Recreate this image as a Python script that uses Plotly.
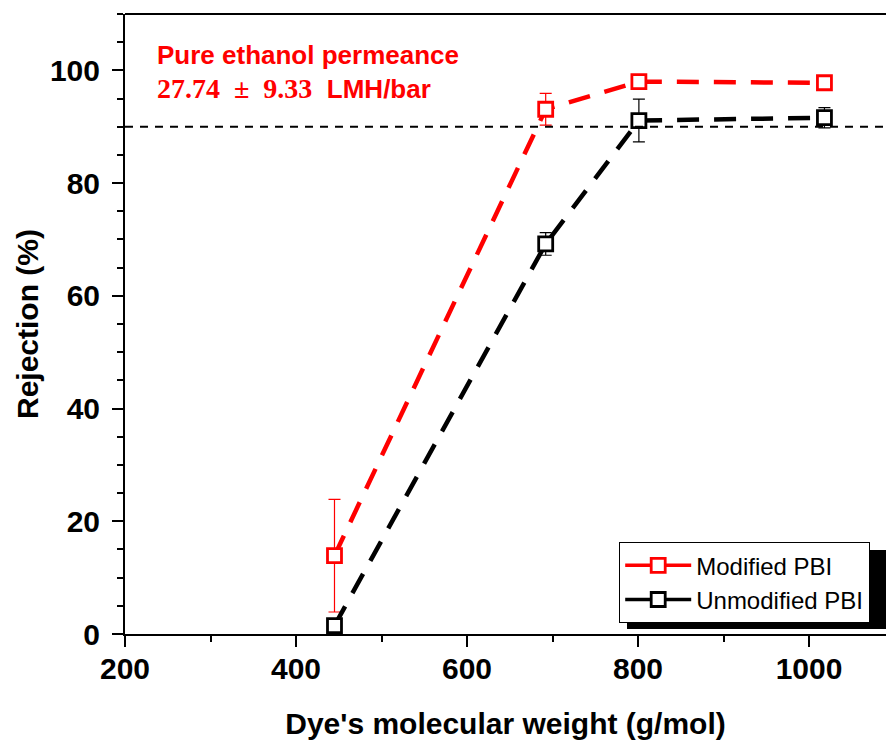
import plotly.graph_objects as go

# Data
mw_mod = [445, 692, 801, 1018]
rej_mod = [13.9, 93.1, 98.0, 97.8]
err_mod = [10.0, 2.8, 0.6, 0.6]

mw_unmod = [445, 692, 801, 1018]
rej_unmod = [1.5, 69.2, 91.1, 91.6]
err_unmod = [0.5, 2.0, 3.8, 1.8]

threshold = 90

FONT = "Liberation Sans, Arial, sans-serif"
RED = "#ff0000"

X0, Y0, PW, PH = 125, 634, 761, 620  # plot area pixel geometry helpers
def px(x):
    return (x - X0) / PW
def py(y):
    return (Y0 - y) / PH

fig = go.Figure()

fig.add_trace(go.Scatter(
    x=mw_mod, y=rej_mod, mode="lines+markers", showlegend=False,
    line=dict(color=RED, width=4.5, dash="22px,15px"),
    marker=dict(symbol="square", size=14, color="white", line=dict(color=RED, width=2.8)),
    error_y=dict(type="data", array=err_mod, color=RED, thickness=1.2, width=6),
))
fig.add_trace(go.Scatter(
    x=mw_unmod, y=rej_unmod, mode="lines+markers", showlegend=False,
    line=dict(color="black", width=4.5, dash="22px,15px"),
    marker=dict(symbol="square", size=14, color="white", line=dict(color="black", width=2.8)),
    error_y=dict(type="data", array=err_unmod, color="black", thickness=1.2, width=6),
))
# legend-only entries (solid line samples)
fig.add_trace(go.Scatter(
    x=[None], y=[None], mode="lines+markers", name="Modified PBI",
    line=dict(color=RED, width=3.5),
    marker=dict(symbol="square", size=14, color="white", line=dict(color=RED, width=2.8)),
))
fig.add_trace(go.Scatter(
    x=[None], y=[None], mode="lines+markers", name="Unmodified PBI",
    line=dict(color="black", width=3.5),
    marker=dict(symbol="square", size=14, color="white", line=dict(color="black", width=2.8)),
))

fig.add_hline(y=threshold, line=dict(color="black", width=1.8, dash="8px,7px"))

# top frame line
fig.add_shape(type="line", xref="paper", yref="paper", x0=0, x1=1, y0=1, y1=1,
              line=dict(color="black", width=2))

# legend shadow
fig.add_shape(type="rect", xref="paper", yref="paper",
              x0=px(627), x1=1.0, y0=py(629), y1=py(550),
              fillcolor="black", line=dict(width=0), layer="above")

NB = "\u00a0"
fig.add_annotation(
    xref="paper", yref="paper", x=px(155), y=py(38),
    xanchor="left", yanchor="top", align="left", showarrow=False,
    text=("<b>Pure ethanol permeance</b><br>"
          "<span style='font-family:Liberation Serif, Times New Roman, serif;font-size:28px'><b>"
          f"27.74{NB}{NB}±{NB}{NB}9.33</b></span>"
          f"<b>{NB}{NB}LMH/bar</b>"),
    font=dict(family=FONT, size=26, color=RED),
)

fig.update_layout(
    width=886, height=740,
    margin=dict(l=X0, r=0, t=14, b=740 - Y0),
    paper_bgcolor="white", plot_bgcolor="white",
    font=dict(family=FONT, color="black"),
    legend=dict(
        x=px(619), y=py(542), xanchor="left", yanchor="top",
        bgcolor="white", bordercolor="black", borderwidth=1.2,
        font=dict(family=FONT, size=24, color="black"),
        itemwidth=66, tracegroupgap=0,
    ),
)

fig.update_xaxes(
    range=[200, 1090], showgrid=False, zeroline=False,
    showline=True, linecolor="black", linewidth=2,
    ticks="outside", ticklen=11, tickwidth=2, tickcolor="black",
    tickvals=[200, 400, 600, 800, 1000],
    minor=dict(tickvals=[300, 500, 700, 900, 1100], ticks="outside", ticklen=6, tickwidth=2, tickcolor="black"),
    tickfont=dict(family=FONT, size=30, color="black", weight="bold"),
    ticklabelstandoff=-4,
    title=dict(text="<b>Dye's molecular weight (g/mol)</b>", font=dict(family=FONT, size=30), standoff=30),
)
fig.update_yaxes(
    range=[0, 110], showgrid=False, zeroline=False,
    showline=True, linecolor="black", linewidth=2,
    ticks="outside", ticklen=11, tickwidth=2, tickcolor="black",
    tickvals=[0, 20, 40, 60, 80, 100],
    minor=dict(dtick=5, ticks="outside", ticklen=6, tickwidth=2, tickcolor="black"),
    tickfont=dict(family=FONT, size=30, color="black", weight="bold"),
    ticklabelstandoff=6,
    title=dict(text="<b>Rejection (%)</b>", font=dict(family=FONT, size=30), standoff=2),
)

fig.write_html("out.html")
